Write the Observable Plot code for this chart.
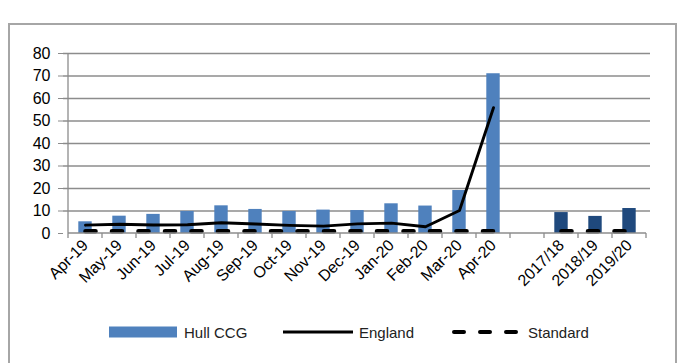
<!DOCTYPE html>
<html>
<head>
<meta charset="utf-8">
<script src="https://cdn.jsdelivr.net/npm/d3@7"></script>
<script src="https://cdn.jsdelivr.net/npm/@observablehq/plot@0.6"></script>
<style>
  html, body { margin: 0; padding: 0; background: #fff; }
  #wrap { position: relative; width: 692px; height: 363px; overflow: hidden; font-family: "Liberation Sans", Arial, sans-serif; }
  #frame { position: absolute; left: 8px; top: 23px; width: 669px; height: 400px; border: 2px solid #a6a6a6; box-sizing: border-box; }
  #chart { position: absolute; left: 0; top: 0; }
  #legend { position: absolute; left: 0; top: 318px; }
</style>
</head>
<body>
<div id="wrap">
  <div id="frame"></div>
  <div id="chart"></div>
  <div id="legend"></div>
</div>
<script>
// ---- data ----
const months = ["Apr-19","May-19","Jun-19","Jul-19","Aug-19","Sep-19","Oct-19","Nov-19","Dec-19","Jan-20","Feb-20","Mar-20","Apr-20"];
const hullMonthly = [5.2, 7.7, 8.5, 9.8, 12.3, 10.7, 9.8, 10.4, 10.2, 13.2, 12.2, 19.1, 71.0];
const englandMonthly = [3.7, 4.1, 3.8, 3.9, 4.8, 4.2, 3.6, 3.3, 4.3, 4.6, 3.0, 10.2, 55.9];
const standardMonthly = [1, 1, 1, 1, 1, 1, 1, 1, 1, 1, 1, 1, 1];
const years = ["2017/18","2018/19","2019/20"];
const hullYearly = [9.3, 7.6, 11.1];
const standardYearly = [1, 1, 1];
const gapLabel = " ";
const yTicks = [0, 10, 20, 30, 40, 50, 60, 70, 80];
const seriesNames = ["Hull CCG", "England", "Standard"];

// ---- tables ----
const domain = [...months, gapLabel, ...years];
const bars = [
  ...months.map((m, i) => ({cat: m, value: hullMonthly[i], kind: "month"})),
  ...years.map((y, i) => ({cat: y, value: hullYearly[i], kind: "year"}))
];
const england = months.map((m, i) => ({cat: m, value: englandMonthly[i]}));
const standard = [
  ...months.map((m, i) => ({cat: m, value: standardMonthly[i], seg: "m"})),
  ...years.map((y, i) => ({cat: y, value: standardYearly[i], seg: "y"}))
];

const BLUE = "#4f81bd", DARK = "#1f497d", GRID = "#8c8c8c";
const font = "Liberation Sans, Arial, sans-serif";

// custom mark: axis line and category boundary ticks, drawn with the scales
function axisFrame(index, scales) {
  const g = d3.create("svg:g");
  const x = scales.x, step = x.step ? x.step() : x.bandwidth();
  const y0 = scales.y(0), yTop = scales.y(80);
  const xs = domain.map(d => x(d));
  xs.push(x(domain[domain.length - 1]) + step);
  for (const px of xs) {
    g.append("line").attr("x1", px).attr("x2", px).attr("y1", y0).attr("y2", y0 + 5)
      .attr("stroke", GRID).attr("stroke-width", 1.3);
  }
  g.append("line").attr("x1", xs[0]).attr("x2", xs[xs.length - 1]).attr("y1", y0).attr("y2", y0)
    .attr("stroke", GRID).attr("stroke-width", 1.3);
  g.append("line").attr("x1", xs[0]).attr("x2", xs[0]).attr("y1", y0).attr("y2", yTop)
    .attr("stroke", GRID).attr("stroke-width", 1.3);
  return g.node();
}

const chart = Plot.plot({
  width: 692,
  height: 310,
  marginLeft: 63,
  marginRight: 42,
  marginTop: 53,
  marginBottom: 77,
  style: {fontFamily: font, fontSize: "16px", color: "#000", background: "transparent"},
  x: {type: "band", domain, padding: 0, label: null},
  y: {domain: [0, 80], label: null},
  marks: [
    Plot.ruleY(yTicks.filter(d => d > 0), {stroke: GRID, strokeWidth: 1.3}),
    Plot.barY(bars, {x: "cat", y: "value", fill: d => d.kind === "month" ? BLUE : DARK, insetLeft: 10.3, insetRight: 10.3}),
    Plot.line(standard, {x: "cat", y: "value", z: "seg", stroke: "#000", strokeWidth: 4.6, strokeDasharray: "10,16.5", strokeLinecap: "round"}),
    Plot.line(england, {x: "cat", y: "value", stroke: "#000", strokeWidth: 2.9, strokeLinejoin: "round"}),
    axisFrame,
    Plot.axisY({ticks: yTicks, tickSize: 5, tickPadding: 8, stroke: GRID, label: null}),
    Plot.axisX({tickSize: 0, tickRotate: -45, tickPadding: 9, label: null, textAnchor: "end"})
  ]
});

d3.select(chart).selectAll("text").style("font-size", "16px").style("font-family", font).attr("fill", "#000");

document.getElementById("chart").appendChild(chart);

// ---- legend ----
const lg = d3.select("#legend").append("svg").attr("width", 692).attr("height", 30)
  .style("font-family", font).style("font-size", "15px");
const cy = 14;
lg.append("rect").attr("x", 109).attr("y", cy - 5.5).attr("width", 68).attr("height", 11).attr("fill", BLUE);
lg.append("text").attr("x", 184).attr("y", cy + 5.5).text(seriesNames[0]).attr("fill", "#222");
lg.append("line").attr("x1", 283).attr("x2", 353).attr("y1", cy).attr("y2", cy)
  .attr("stroke", "#000").attr("stroke-width", 3);
lg.append("text").attr("x", 359).attr("y", cy + 5.5).text(seriesNames[1]).attr("fill", "#222");
lg.append("line").attr("x1", 454).attr("x2", 520).attr("y1", cy).attr("y2", cy)
  .attr("stroke", "#000").attr("stroke-width", 4).attr("stroke-linecap", "round")
  .attr("stroke-dasharray", "10,16");
lg.append("text").attr("x", 528).attr("y", cy + 5.5).text(seriesNames[2]).attr("fill", "#222");
</script>
</body>
</html>
